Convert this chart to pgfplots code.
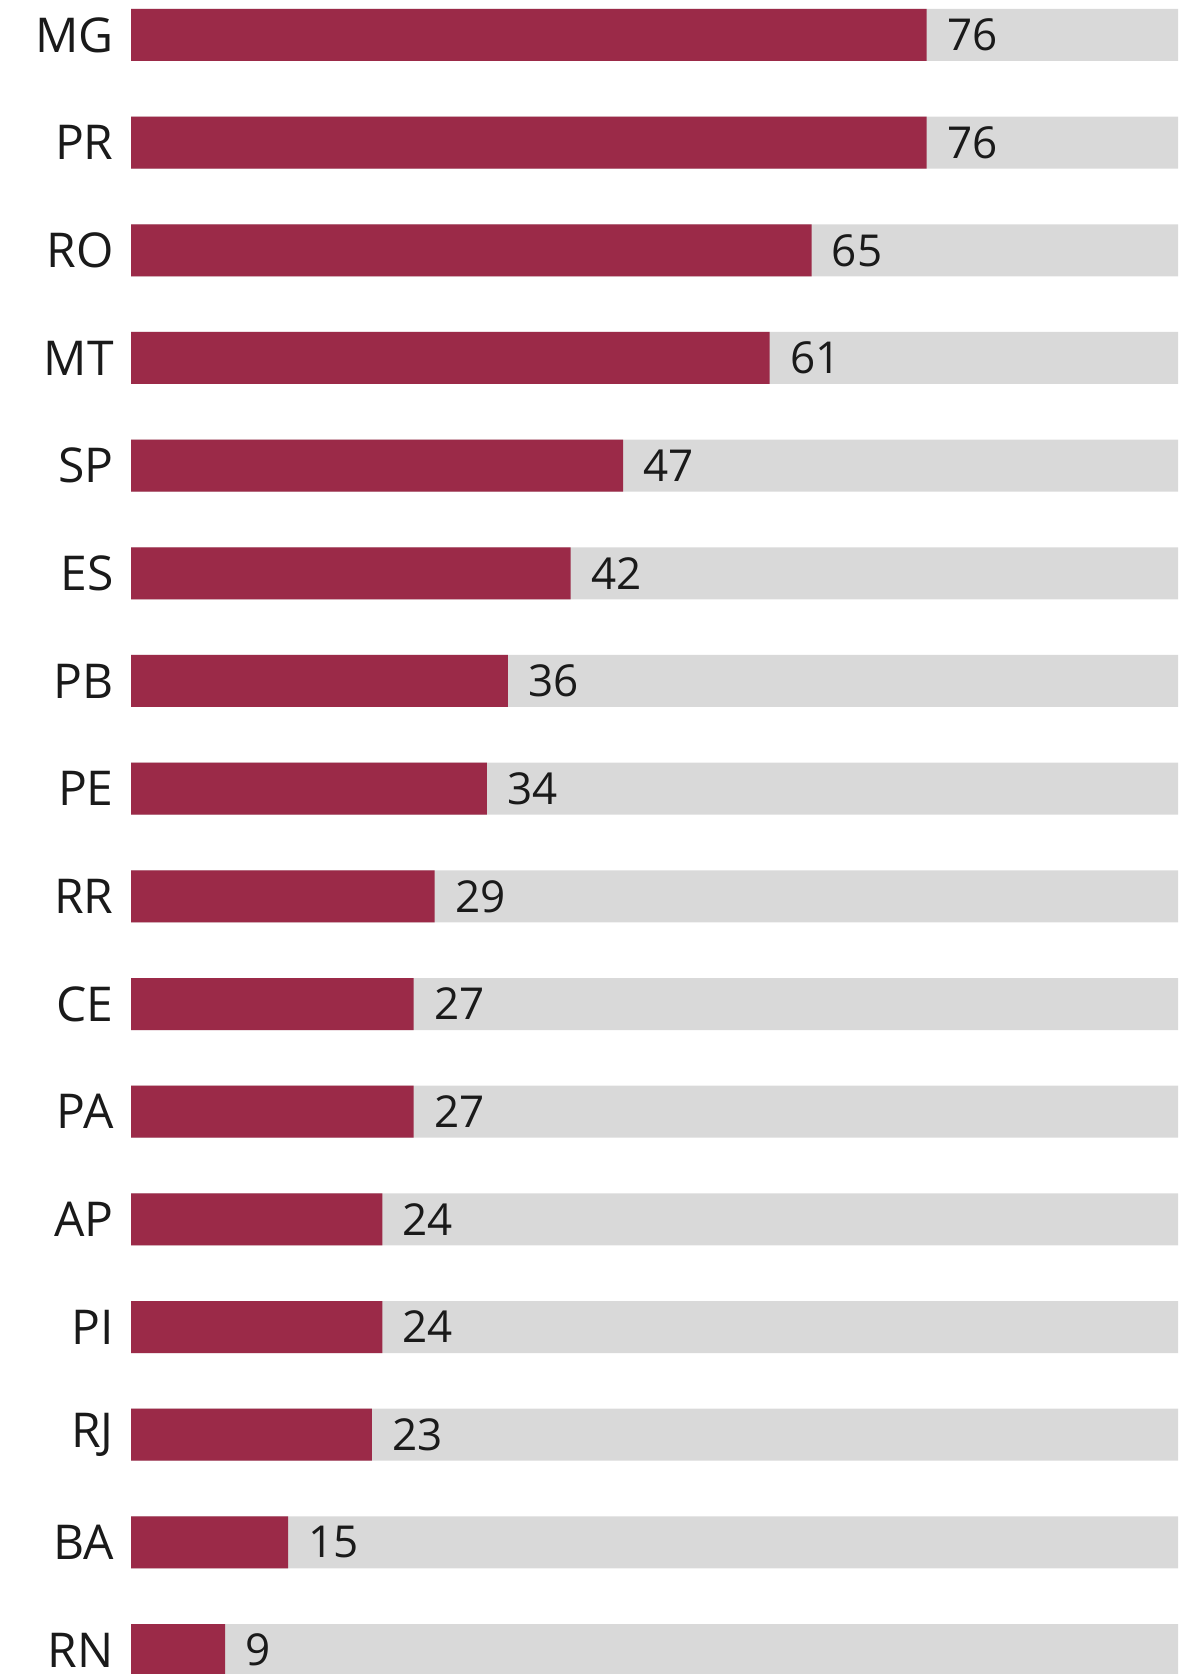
\documentclass[border=0pt]{standalone}
\usepackage{pgfplots}
\pgfplotsset{compat=1.18}
\usepackage{fontspec}
\setmainfont{Open Sans}
\definecolor{barred}{RGB}{155,42,72}
\definecolor{bargray}{RGB}{217,217,217}
\definecolor{txt}{RGB}{26,26,26}
\begin{document}
\begin{tikzpicture}
\path[use as bounding box] (0,0) rectangle (593.5pt,837pt);
\begin{axis}[
  scale only axis, width=523.5pt, height=837pt,
  at={(65.5pt,0pt)}, anchor=south west,
  xmin=0, xmax=100, ymin=-0.325, ymax=15.223, y dir=reverse,
  axis line style={draw=none}, xtick=\empty,
  ytick={0,...,15},
  yticklabels={MG,PR,RO,MT,SP,ES,PB,PE,RR,CE,PA,AP,PI,RJ,BA,RN},
  tick style={draw=none}, major tick length=0pt,
  yticklabel style={font=\fontsize{24}{24}\selectfont, text=txt, inner sep=0pt, xshift=-8.5pt},
  /pgf/number format/assume math mode=true,
  xbar, bar width=26pt, bar shift=0pt,
]
\addplot[fill=bargray, draw=none] coordinates {
(100,0) (100,1) (100,2) (100,3) (100,4) (100,5) (100,6) (100,7)
(100,8) (100,9) (100,10) (100,11) (100,12) (100,13) (100,14) (100,15)};
\addplot[fill=barred, draw=none, nodes near coords,
  nodes near coords style={anchor=west, inner sep=0pt, xshift=10pt, font=\fontsize{22}{22}\selectfont, text=txt}] coordinates {
(76,0) (76,1) (65,2) (61,3) (47,4) (42,5) (36,6) (34,7)
(29,8) (27,9) (27,10) (24,11) (24,12) (23,13) (15,14) (9,15)};
\end{axis}
\end{tikzpicture}
\end{document}
